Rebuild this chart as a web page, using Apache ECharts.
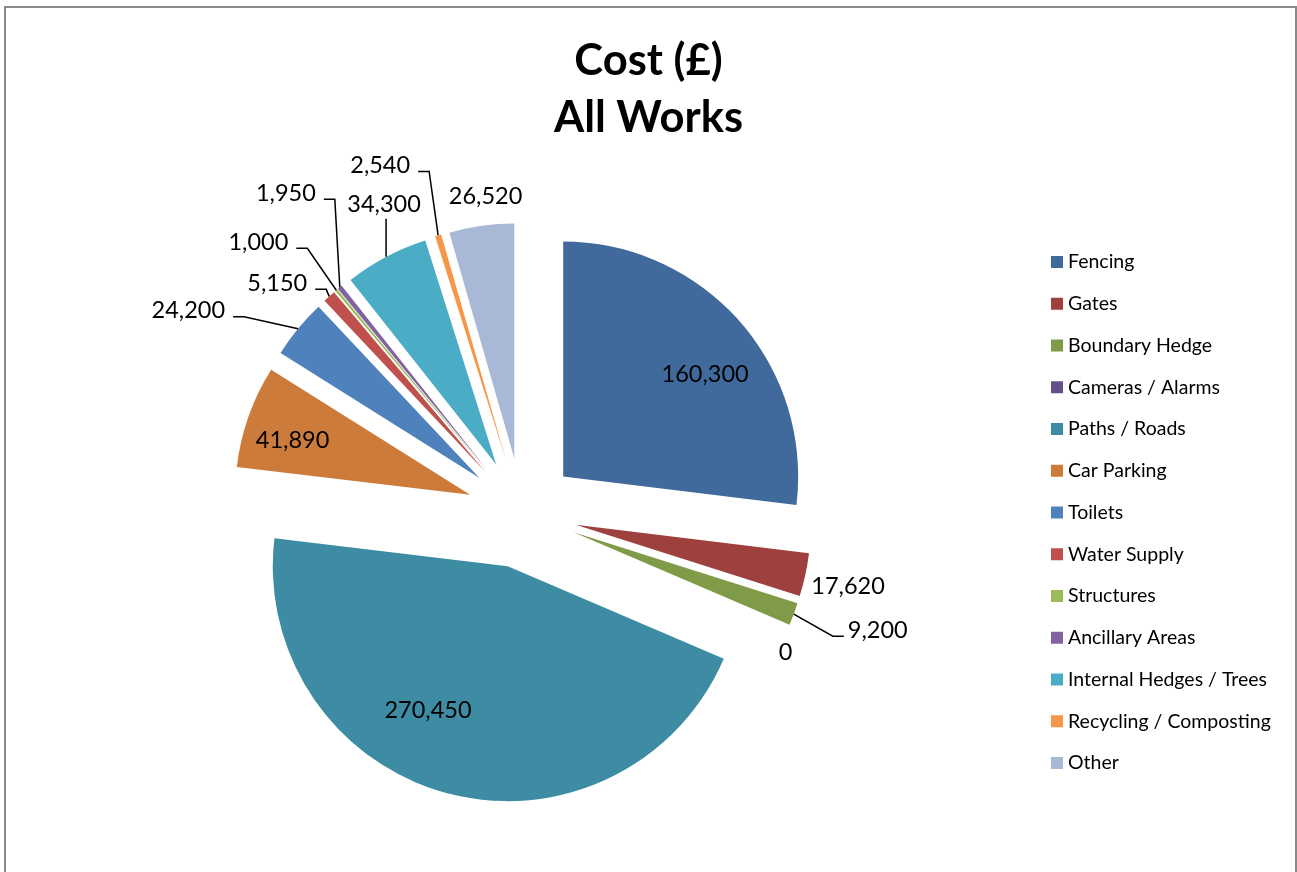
<!DOCTYPE html>
<html>
<head>
<meta charset="utf-8">
<title>Cost (£) All Works</title>
<script src="https://cdn.jsdelivr.net/npm/echarts@6/dist/echarts.min.js"></script>
<style>
  html, body { margin: 0; padding: 0; background: #ffffff; }
  #chart { width: 1297px; height: 872px; }
</style>
</head>
<body>
<div id="chart"></div>
<script>
// Cost of works by category (£)
const categories = [
  'Fencing', 'Gates', 'Boundary Hedge', 'Cameras / Alarms', 'Paths / Roads',
  'Car Parking', 'Toilets', 'Water Supply', 'Structures', 'Ancillary Areas',
  'Internal Hedges / Trees', 'Recycling / Composting', 'Other'
];
const costs = [160300, 17620, 9200, 0, 270450, 41890, 24200, 5150, 1000, 1950, 34300, 2540, 26520];

const colors = [
  '#3F6A9B', '#9E413E', '#7F9B48', '#664E87', '#3D8CA4', '#CD7B3A', '#4F81BD',
  '#C0504D', '#9BBB59', '#8064A2', '#4BACC6', '#F79646', '#A9B8D6'
];

// Pie geometry
const CENTER = [522, 513];
const RADIUS = 235;
const EXPLODE = 55;
const LABEL_R = RADIUS + EXPLODE;
const FONT = 'Lato, "Open Sans", sans-serif';

// Data label placement: offset of the text from the exploded slice's outer midpoint,
// text alignment and leader-line style.
const labelPlacement = {
  'Fencing':                { dx: -34, dy: 54,  align: 'center', line: 'none' },
  'Gates':                  { dx: 6,   dy: 12,  align: 'left',   line: 'none' },
  'Boundary Hedge':         { dx: 54,  dy: 16,  align: 'left',   line: 'elbow' },
  'Cameras / Alarms':       { dx: -3,  dy: 25,  align: 'center', line: 'none' },
  'Paths / Roads':          { dx: -19, dy: -83, align: 'center', line: 'none' },
  'Car Parking':            { dx: 44,  dy: 24,  align: 'center', line: 'none' },
  'Toilets':                { dx: -73, dy: -18, align: 'right',  line: 'elbow' },
  'Water Supply':           { dx: -22, dy: -13, align: 'right',  line: 'elbow' },
  'Structures':             { dx: -48, dy: -48, align: 'right',  line: 'elbow' },
  'Ancillary Areas':        { dx: -24, dy: -94, align: 'right',  line: 'elbow' },
  'Internal Hedges / Trees':{ dx: -2,  dy: -52, align: 'center', line: 'vertical' },
  'Recycling / Composting': { dx: -28, dy: -70, align: 'right',  line: 'elbow' },
  'Other':                  { dx: 4,   dy: -29, align: 'center', line: 'none' }
};

// Mid angle of every slice, clockwise from 12 o'clock
const total = costs.reduce((a, b) => a + b, 0);
let running = 0;
const midAngles = costs.map(v => {
  const m = (running + v / 2) / total * Math.PI * 2;
  running += v;
  return m;
});
function outerPoint(i) {
  const a = midAngles[i];
  return [CENTER[0] + LABEL_R * Math.sin(a), CENTER[1] - LABEL_R * Math.cos(a)];
}

const fmt = v => v.toLocaleString('en-GB');

const chart = echarts.init(document.getElementById('chart'), null, { renderer: 'canvas' });

chart.setOption({
  backgroundColor: '#ffffff',
  animation: false,
  title: {
    text: 'Cost (£)\nAll Works',
    left: 'center',
    top: 32,
    padding: [0, 0, 0, 11],
    textStyle: {
      fontFamily: FONT,
      fontSize: 43.5,
      fontWeight: 'bold',
      lineHeight: 57,
      color: '#000000'
    }
  },
  legend: {
    orient: 'vertical',
    left: 1051,
    top: 252,
    padding: 0,
    itemWidth: 12,
    itemHeight: 12,
    itemGap: 21.75,
    icon: 'rect',
    selectedMode: false,
    data: categories,
    textStyle: {
      fontFamily: FONT,
      fontSize: 19.5,
      lineHeight: 20,
      color: '#000000'
    }
  },
  graphic: [{
    type: 'rect',
    silent: true,
    shape: { x: 5, y: 7, width: 1291, height: 900 },
    style: { fill: 'none', stroke: '#8a8a8a', lineWidth: 2 }
  }],
  series: [
    {
      // exploded slices
      name: 'Cost',
      type: 'pie',
      center: CENTER,
      radius: RADIUS,
      startAngle: 90,
      clockwise: true,
      selectedMode: 'multiple',
      selectedOffset: EXPLODE,
      avoidLabelOverlap: false,
      silent: true,
      label: { show: false },
      labelLine: { show: false },
      itemStyle: { borderWidth: 0 },
      emphasis: { disabled: true },
      data: categories.map((name, i) => ({
        name,
        value: costs[i],
        selected: true,
        itemStyle: { color: colors[i] }
      }))
    },
    {
      // data labels and leader lines
      name: 'Labels',
      type: 'pie',
      center: CENTER,
      radius: LABEL_R,
      startAngle: 90,
      clockwise: true,
      avoidLabelOverlap: false,
      silent: true,
      z: 5,
      itemStyle: { color: 'rgba(0,0,0,0)', borderWidth: 0 },
      emphasis: { disabled: true },
      label: {
        show: true,
        position: 'outside',
        fontFamily: FONT,
        fontSize: 23.5,
        color: '#000000',
        formatter: p => fmt(p.value)
      },
      labelLine: {
        show: true,
        smooth: false,
        lineStyle: { color: '#000000', width: 1.5 }
      },
      labelLayout: function (p) {
        const c = labelPlacement[categories[p.dataIndex]];
        if (!c) return {};
        const [ax, ay] = outerPoint(p.dataIndex);
        const x = ax + c.dx;
        const y = ay + c.dy;
        const out = { x: x, y: y, align: c.align, verticalAlign: 'middle' };
        if (c.line === 'elbow') {
          const side = c.align === 'right' ? 1 : -1;
          const edgeX = c.align === 'right' ? x + 8 : x - 4;
          const lineY = y + 6;
          out.labelLinePoints = [[ax, ay], [edgeX + side * 11, lineY], [edgeX, lineY]];
        } else if (c.line === 'vertical') {
          out.labelLinePoints = [[ax, ay], [ax, y + p.labelRect.height / 2 + 2]];
        }
        return out;
      },
      data: categories.map((name, i) => ({
        name,
        value: costs[i],
        labelLine: { show: labelPlacement[name].line !== 'none' }
      }))
    }
  ]
});
</script>
</body>
</html>
